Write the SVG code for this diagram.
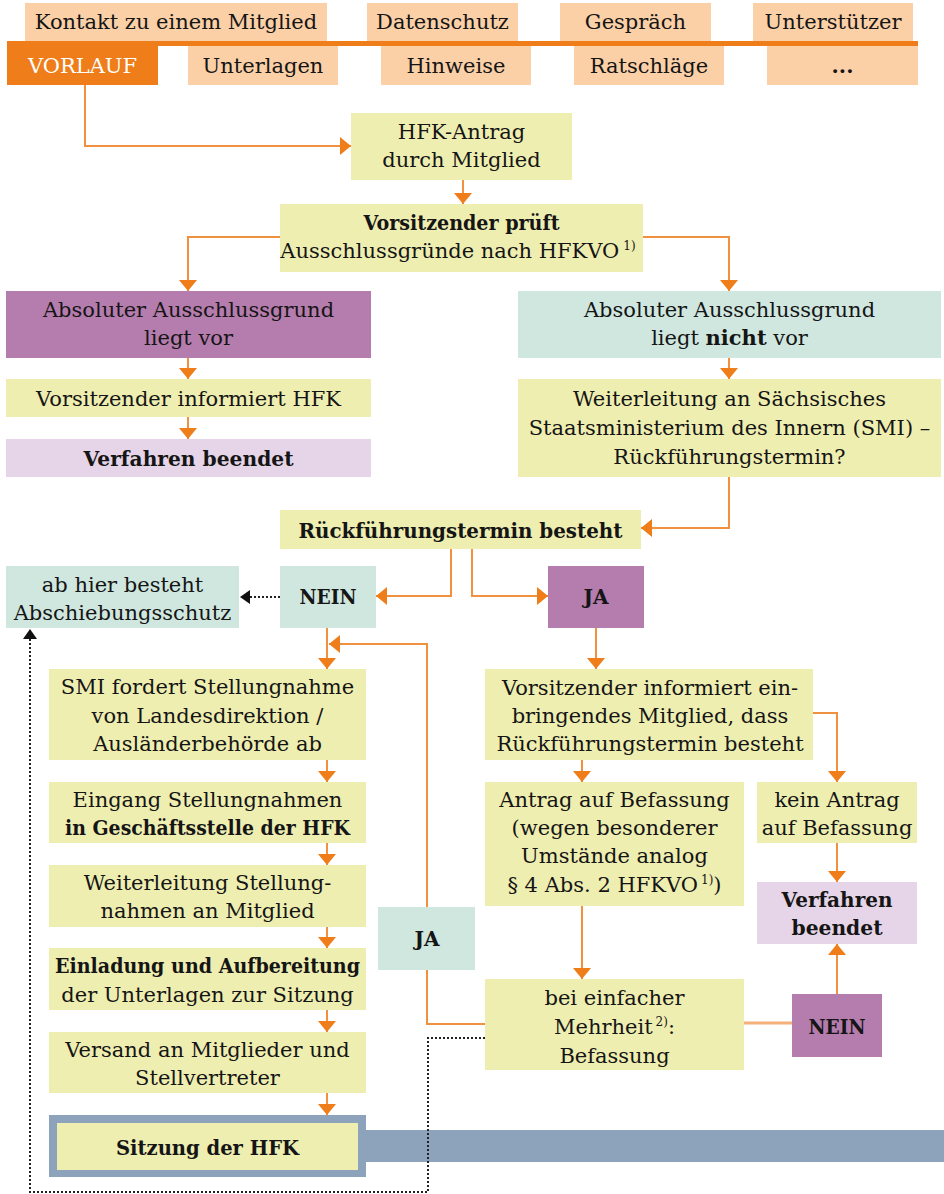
<svg xmlns="http://www.w3.org/2000/svg" width="944" height="1194" viewBox="0 0 944 1194">
<defs>
<style>
.t{font-family:"DejaVu Serif","Liberation Serif",serif;font-size:21px;fill:#151515;text-anchor:middle}
.b{font-weight:bold}
.w{fill:#ffffff}
.s{font-size:12px}
.y{fill:#EFEEB1}.p{fill:#B57CAE}.l{fill:#E6D5E8}.g{fill:#CFE7DF}.pe{fill:#FBD0A7}.o{fill:#EE7D1A}.bl{fill:#8DA3BC}
.c{fill:none;stroke:#F0913F;stroke-width:2}
.c2{fill:none;stroke:#F5B07A;stroke-width:3}
.d{fill:none;stroke:#222;stroke-width:2;stroke-dasharray:2 2}
</style>
<marker id="ah" markerWidth="11" markerHeight="18" refX="11" refY="9" orient="auto" markerUnits="userSpaceOnUse"><path d="M0,0 L11,9 L0,18 Z" fill="#EE7D1A"/></marker>
<marker id="bh" markerWidth="10" markerHeight="14" refX="10" refY="7" orient="auto" markerUnits="userSpaceOnUse"><path d="M0,0 L10,7 L0,14 Z" fill="#111"/></marker>
</defs>

<g id="top-bar">
<rect class="o" x="7" y="41" width="911" height="5"/>
<rect class="pe" x="25" y="3" width="302" height="38"/>
<text class="t" x="176" y="29">Kontakt zu einem Mitglied</text>
<rect class="pe" x="367" y="3" width="151" height="38"/>
<text class="t" x="442.5" y="29">Datenschutz</text>
<rect class="pe" x="560" y="3" width="151" height="38"/>
<text class="t" x="635.5" y="29">Gespräch</text>
<rect class="pe" x="753" y="3" width="160" height="38"/>
<text class="t" x="833" y="29">Unterstützer</text>
<rect class="o" x="7" y="43" width="151" height="42"/>
<text class="t w" x="82.5" y="73">VORLAUF</text>
<rect class="pe" x="188" y="46" width="150" height="39"/>
<text class="t" x="263" y="73">Unterlagen</text>
<rect class="pe" x="381" y="46" width="150" height="39"/>
<text class="t" x="456" y="73">Hinweise</text>
<rect class="pe" x="574" y="46" width="150" height="39"/>
<text class="t" x="649" y="73">Ratschläge</text>
<rect class="pe" x="767" y="46" width="151" height="39"/>
<text class="t b" x="842.5" y="73">...</text>
</g>

<g id="hfk-antrag">
<rect class="y" x="351" y="113" width="221" height="67"/>
<text class="t" x="461.5" y="139">HFK-Antrag</text>
<text class="t" x="461.5" y="167">durch Mitglied</text>
</g>

<g id="vorsitzender-prueft">
<rect class="y" x="280" y="204" width="363" height="68"/>
<text class="t b" x="461.5" y="230" textLength="196" lengthAdjust="spacingAndGlyphs">Vorsitzender prüft</text>
<text class="t" x="458" y="258">Ausschlussgründe nach HFKVO<tspan class="s" dx="4" dy="-8">1)</tspan></text>
</g>

<g id="ausschluss-ja">
<rect class="p" x="6" y="291" width="365" height="67"/>
<text class="t" x="188.5" y="317">Absoluter Ausschlussgrund</text>
<text class="t" x="188.5" y="345">liegt vor</text>
</g>

<g id="informiert-hfk">
<rect class="y" x="6" y="379" width="365" height="38"/>
<text class="t" x="188.5" y="406">Vorsitzender informiert HFK</text>
</g>

<g id="beendet-links">
<rect class="l" x="6" y="439" width="365" height="38"/>
<text class="t b" x="188.5" y="466" textLength="210" lengthAdjust="spacingAndGlyphs">Verfahren beendet</text>
</g>

<g id="ausschluss-nein">
<rect class="g" x="518" y="291" width="423" height="67"/>
<text class="t" x="729.5" y="317">Absoluter Ausschlussgrund</text>
<text class="t" x="729.5" y="345">liegt <tspan class="b">nicht</tspan> vor</text>
</g>

<g id="weiterleitung-smi">
<rect class="y" x="518" y="379" width="423" height="98"/>
<text class="t" x="729.5" y="406">Weiterleitung an Sächsisches</text>
<text class="t" x="729.5" y="435">Staatsministerium des Innern (SMI) –</text>
<text class="t" x="729.5" y="464">Rückführungstermin?</text>
</g>

<g id="rueckfuehrungstermin">
<rect class="y" x="280" y="510" width="361" height="39"/>
<text class="t b" x="460.5" y="538" textLength="324" lengthAdjust="spacingAndGlyphs">Rückführungstermin besteht</text>
</g>

<g id="abschiebungsschutz">
<rect class="g" x="6" y="566" width="233" height="62"/>
<text class="t" x="122.5" y="592">ab hier besteht</text>
<text class="t" x="122.5" y="620">Abschiebungsschutz</text>
</g>

<g id="nein-oben">
<rect class="g" x="280" y="566" width="96" height="62"/>
<text class="t b" x="328" y="604" textLength="57" lengthAdjust="spacingAndGlyphs">NEIN</text>
</g>

<g id="ja-oben">
<rect class="p" x="548" y="566" width="96" height="62"/>
<text class="t b" x="596" y="604" textLength="25" lengthAdjust="spacingAndGlyphs">JA</text>
</g>

<g id="smi-fordert">
<rect class="y" x="49" y="669" width="317" height="91"/>
<text class="t" x="207.5" y="694">SMI fordert Stellungnahme</text>
<text class="t" x="207.5" y="723">von Landesdirektion /</text>
<text class="t" x="207.5" y="751">Ausländerbehörde ab</text>
</g>

<g id="eingang">
<rect class="y" x="49" y="782" width="317" height="61"/>
<text class="t" x="207.5" y="807">Eingang Stellungnahmen</text>
<text class="t b" x="207.5" y="835" textLength="285" lengthAdjust="spacingAndGlyphs">in Geschäftsstelle der HFK</text>
</g>

<g id="weiterleitung-mitglied">
<rect class="y" x="49" y="865" width="317" height="62"/>
<text class="t" x="207.5" y="890">Weiterleitung Stellung-</text>
<text class="t" x="207.5" y="918">nahmen an Mitglied</text>
</g>

<g id="einladung">
<rect class="y" x="49" y="948" width="317" height="62"/>
<text class="t b" x="207.5" y="973" textLength="305" lengthAdjust="spacingAndGlyphs">Einladung und Aufbereitung</text>
<text class="t" x="207.5" y="1002">der Unterlagen zur Sitzung</text>
</g>

<g id="versand">
<rect class="y" x="49" y="1032" width="317" height="61"/>
<text class="t" x="207.5" y="1057">Versand an Mitglieder und</text>
<text class="t" x="207.5" y="1085">Stellvertreter</text>
</g>

<g id="sitzung">
<rect class="bl" x="365" y="1130" width="579" height="32"/>
<rect class="bl" x="49" y="1115" width="317" height="62"/>
<rect class="y" x="57" y="1123" width="301" height="47"/>
<text class="t b" x="207.5" y="1155" textLength="183" lengthAdjust="spacingAndGlyphs">Sitzung der HFK</text>
</g>

<g id="informiert-mitglied">
<rect class="y" x="485" y="669" width="328" height="91"/>
<text class="t" x="650" y="695">Vorsitzender informiert ein-</text>
<text class="t" x="650" y="723">bringendes Mitglied, dass</text>
<text class="t" x="650" y="751">Rückführungstermin besteht</text>
</g>

<g id="antrag-befassung">
<rect class="y" x="485" y="782" width="259" height="124"/>
<text class="t" x="614.5" y="807">Antrag auf Befassung</text>
<text class="t" x="614.5" y="835">(wegen besonderer</text>
<text class="t" x="614.5" y="863">Umstände analog</text>
<text class="t" x="614.5" y="892">§ 4 Abs. 2 HFKVO<tspan class="s" dx="3" dy="-8">1)</tspan><tspan dy="8">)</tspan></text>
</g>

<g id="kein-antrag">
<rect class="y" x="757" y="782" width="160" height="61"/>
<text class="t" x="837" y="807">kein Antrag</text>
<text class="t" x="837" y="835">auf Befassung</text>
</g>

<g id="beendet-rechts">
<rect class="l" x="757" y="882" width="160" height="62"/>
<text class="t b" x="837" y="907" textLength="111" lengthAdjust="spacingAndGlyphs">Verfahren</text>
<text class="t b" x="837" y="935" textLength="91" lengthAdjust="spacingAndGlyphs">beendet</text>
</g>

<g id="ja-unten">
<rect class="g" x="378" y="907" width="97" height="63"/>
<text class="t b" x="427" y="946" textLength="25" lengthAdjust="spacingAndGlyphs">JA</text>
</g>

<g id="mehrheit">
<rect class="y" x="485" y="979" width="259" height="91"/>
<text class="t" x="614.5" y="1005">bei einfacher</text>
<text class="t" x="614.5" y="1034">Mehrheit<tspan class="s" dx="3" dy="-8">2)</tspan><tspan dy="8">:</tspan></text>
<text class="t" x="614.5" y="1063">Befassung</text>
</g>

<g id="nein-unten">
<rect class="p" x="792" y="994" width="90" height="63"/>
<text class="t b" x="837" y="1034" textLength="57" lengthAdjust="spacingAndGlyphs">NEIN</text>
</g>

<g id="connectors">
<path class="c" d="M85,85 V146 H351" marker-end="url(#ah)"/>
<path class="c" d="M463,180 V204" marker-end="url(#ah)"/>
<path class="c" d="M280,237 H188 V291" marker-end="url(#ah)"/>
<path class="c" d="M643,237 H729 V291" marker-end="url(#ah)"/>
<path class="c" d="M188,358 V379" marker-end="url(#ah)"/>
<path class="c" d="M188,417 V439" marker-end="url(#ah)"/>
<path class="c" d="M729,358 V379" marker-end="url(#ah)"/>
<path class="c" d="M729,477 V528 H641" marker-end="url(#ah)"/>
<path class="c" d="M451,549 V596 H376" marker-end="url(#ah)"/>
<path class="c" d="M472,549 V596 H548" marker-end="url(#ah)"/>
<path class="d" d="M280,597 H240" marker-end="url(#bh)"/>
<path class="c" d="M327,628 V669" marker-end="url(#ah)"/>
<path class="c" d="M485,1024 H427 V970"/>
<path class="c" d="M427,907 V644 H329" marker-end="url(#ah)"/>
<path class="c" d="M596,628 V669" marker-end="url(#ah)"/>
<path class="c" d="M813,713 H837 V782" marker-end="url(#ah)"/>
<path class="c" d="M582,760 V782" marker-end="url(#ah)"/>
<path class="c" d="M837,843 V882" marker-end="url(#ah)"/>
<path class="c" d="M582,906 V979" marker-end="url(#ah)"/>
<path class="c2" d="M744,1023 H792"/>
<path class="c" d="M837,994 V944" marker-end="url(#ah)"/>
<path class="c" d="M327,760 V782" marker-end="url(#ah)"/>
<path class="c" d="M327,843 V865" marker-end="url(#ah)"/>
<path class="c" d="M327,927 V948" marker-end="url(#ah)"/>
<path class="c" d="M327,1010 V1032" marker-end="url(#ah)"/>
<path class="c" d="M327,1093 V1115" marker-end="url(#ah)"/>
<path class="d" d="M485,1038 H428 V1192 H30 V629" marker-end="url(#bh)"/>
</g>
</svg>
